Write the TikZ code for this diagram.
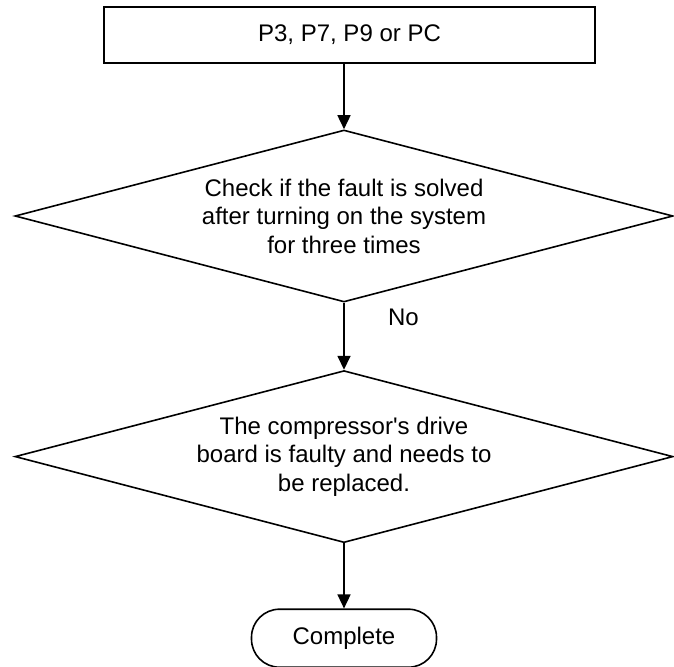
\documentclass[tikz,border=0pt]{standalone}
\usepackage{fontspec}
\setmainfont{Liberation Sans}
\usetikzlibrary{arrows.meta, positioning, shapes.geometric}

\begin{document}
\begin{tikzpicture}[
  x=1pt, y=1pt,
  node distance=67pt,
  proc/.style={rectangle, draw=black, line width=1.6pt, minimum width=491pt, minimum height=56pt, align=center, font=\fontsize{24}{28.5}\selectfont},
  test/.style={diamond, draw=black, line width=1.6pt, minimum width=658pt, minimum height=172pt, aspect=3.8, inner sep=0pt, align=center, font=\fontsize{24}{28.5}\selectfont},
  term/.style={rectangle, rounded corners=28pt, draw=black, line width=1.6pt, minimum width=185pt, minimum height=58pt, align=center, font=\fontsize{24}{28.5}\selectfont},
  arr/.style={-{Triangle[length=14pt, width=13pt]}, line width=1.6pt}
]
\useasboundingbox (0,0) rectangle (674,-666);
\node[proc] (codes) at (349.5,-35) {P3, P7, P9 or PC};
\node[test] (check) at (344,-216) {Check if the fault is solved\\after turning on the system\\for three times};
\node[test, below=of check] (board) {The compressor\textquotesingle s drive\\board is faulty and needs to\\be replaced.};
\node[term, below=65pt of board] (done) {Complete};
\draw[arr] (codes.south -| check.north) -- (check.north);
\draw[arr] (check) -- node[pos=0.22, right, xshift=40pt, font=\fontsize{24}{28.5}\selectfont] (no) {No} (board);
\draw[arr] (board) -- (done);
\end{tikzpicture}
\end{document}
